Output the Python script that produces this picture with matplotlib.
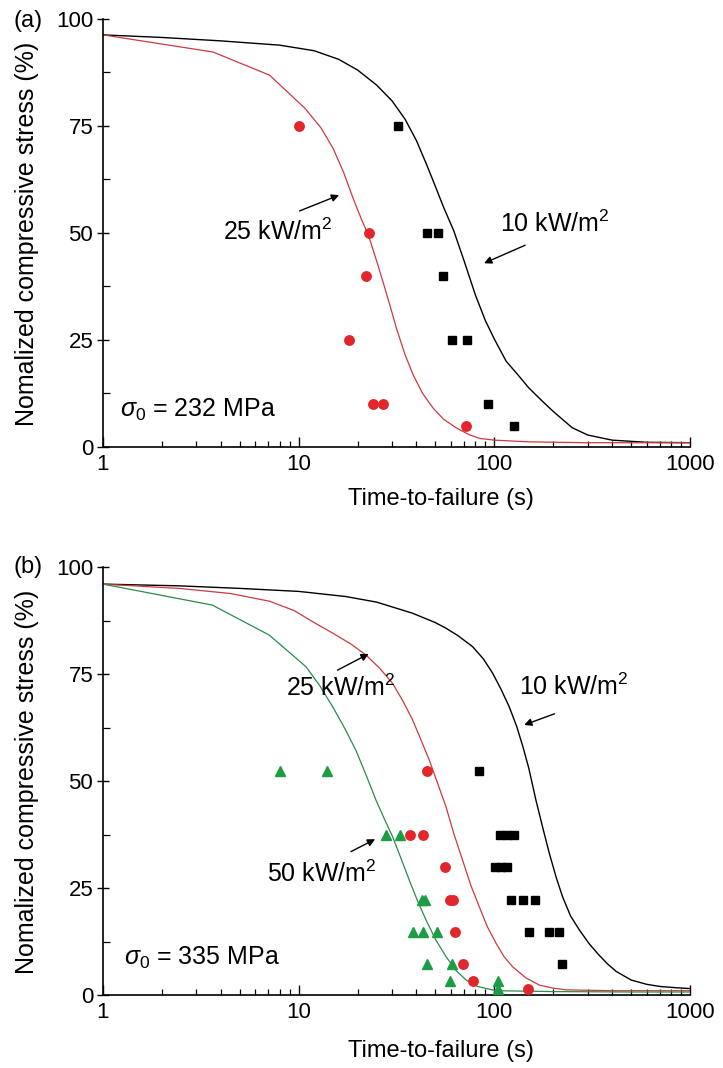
import matplotlib
matplotlib.use("Agg")
import matplotlib.pyplot as plt
from matplotlib.ticker import FixedLocator, NullFormatter

plt.rcParams['font.family'] = ['Liberation Sans', 'DejaVu Sans']
plt.rcParams['mathtext.fontset'] = 'custom'
plt.rcParams['mathtext.rm'] = 'Liberation Sans'
plt.rcParams['mathtext.it'] = 'Liberation Sans:italic'
plt.rcParams['mathtext.bf'] = 'Liberation Sans:bold'

# ---------------- data: panel (a), sigma0 = 232 MPa ----------------
a_curve10_t = [1, 2, 4, 8, 12, 16, 20, 25, 30, 35, 40, 45, 50, 55, 62, 70, 80, 90, 100, 115, 130, 150,
               175, 200, 250, 300, 400, 600, 1000]
a_curve10_y = [96.2, 95.6, 94.8, 93.8, 92.5, 90.5, 88.0, 84.5, 80.8, 76.5, 71.5, 66.0, 60.8, 56.0, 50.5,
               43.5, 35.5, 29.5, 25.2, 20.0, 17.2, 13.8, 10.8, 8.3, 4.5, 2.8, 1.6, 1.1, 1.0]
a_curve25_t = [1, 3.65, 7.1, 10.8, 13, 15, 17, 19, 21, 22.7, 25, 27, 29.5, 31.7, 35, 38.5, 43, 48.8, 55,
               64.2, 75, 84.5, 100, 150, 300, 1000]
a_curve25_y = [96.2, 92.2, 86.8, 79.0, 74.5, 69.7, 64.0, 58.0, 53.0, 49.5, 43.5, 38.5, 32.5, 27.5, 21.5,
               16.8, 12.5, 9.0, 6.5, 4.4, 2.8, 2.0, 1.6, 1.2, 1.0, 1.0]
a_red_t = [10.0, 23.0, 22.1, 18.1, 24.1, 27.0, 71.4]
a_red_y = [75, 50, 40, 25, 10, 10, 5]
a_black_t = [32.0, 45.1, 51.3, 54.4, 60.5, 72.8, 93.2, 126.5]
a_black_y = [75, 50, 50, 40, 25, 25, 10, 5]

# ---------------- data: panel (b), sigma0 = 335 MPa ----------------
b_curve10_t = [1, 2.45, 5, 10, 17.4, 25, 38.2, 50, 56.6, 65, 77.4, 88, 98, 108, 119, 130, 140, 150, 163,
               177, 191, 207, 223, 245, 272, 305, 340, 380, 420, 500, 600, 700, 850, 1000]
b_curve10_y = [96.0, 95.6, 95.0, 94.3, 93.1, 91.8, 89.2, 87.0, 85.7, 84.0, 81.4, 78.5, 75.2, 71.5, 67.4,
               62.8, 58.0, 53.0, 45.6, 39.0, 33.1, 27.5, 23.0, 18.5, 15.2, 12.0, 9.5, 7.2, 5.5, 3.5,
               2.5, 2.0, 1.7, 1.5]
b_curve25_t = [1, 2.45, 4.5, 7.1, 9.5, 11.8, 15, 18.5, 22.1, 26, 30.2, 34, 38.2, 42, 46.5, 51, 56.6, 62,
               68.8, 76, 83.8, 92, 102, 112, 124, 145, 170, 200, 233, 400, 1000]
b_curve25_y = [96.0, 95.0, 93.8, 92.0, 89.8, 87.2, 84.5, 82.0, 79.4, 76.3, 72.8, 68.8, 64.3, 59.8, 54.9,
               49.8, 44.0, 37.8, 31.5, 25.5, 20.6, 16.0, 12.1, 9.0, 6.6, 4.0, 2.3, 1.6, 1.2, 1.0, 1.0]
b_curve50_t = [1, 3.62, 7.07, 10.9, 12.8, 14.9, 17.2, 19.6, 22.2, 24.8, 27.5, 30.2, 33.3, 36.7, 40.5,
               44.8, 50, 56.6, 63.5, 71.7, 82, 102, 200, 500, 1000]
b_curve50_y = [96.0, 91.1, 84.1, 76.7, 72.3, 67.4, 62.3, 57.2, 51.2, 45.6, 41.0, 37.0, 32.0, 26.9, 22.0,
               17.5, 13.0, 9.0, 5.8, 3.5, 2.0, 1.0, 0.8, 0.7, 0.7]
b_green_t = [8.0, 14.0, 28.1, 32.9, 42.7, 44.4, 38.2, 43.0, 50.7, 45.1, 60.8, 59.3, 104, 104]
b_green_y = [52.3, 52.3, 37.3, 37.3, 22.3, 22.3, 14.8, 14.8, 14.8, 7.3, 7.3, 3.3, 3.3, 1.5]
b_red_t = [45.1, 37.0, 43.3, 56.0, 59.5, 61.5, 62.9, 68.8, 78.1, 149]
b_red_y = [52.3, 37.3, 37.3, 29.8, 22.3, 22.3, 14.8, 7.3, 3.3, 1.5]
b_black_t = [83.8, 106.4, 115.6, 126, 101, 108, 115.6, 121.7, 139.6, 162, 150, 189.6, 213, 222]
b_black_y = [52.3, 37.3, 37.3, 37.3, 29.8, 29.8, 29.8, 22.3, 22.3, 22.3, 14.8, 14.8, 14.8, 7.3]

x_ticks = [1, 10, 100, 1000]
x_ticklabels = ['1', '10', '100', '1000']
y_ticks = [0, 25, 50, 75, 100]
y_minor = [12.5, 37.5, 62.5, 87.5]

RED = '#e2262b'
RED_LINE = '#cc3a3e'
GREEN = '#1c9c45'
GREEN_LINE = '#2a8c48'

W, H = 723, 1068
fig = plt.figure(figsize=(W / 100, H / 100), dpi=100)

def make_axes(top_px, bottom_px):
    left_px, right_px = 103, 690
    return fig.add_axes([left_px / W, 1 - bottom_px / H, (right_px - left_px) / W, (bottom_px - top_px) / H])

def style(ax, xlabel_off):
    ax.set_xscale('log')
    ax.set_xlim(1, 1000)
    ax.set_ylim(0, 100)
    for s in ['top', 'right']:
        ax.spines[s].set_visible(False)
    for s in ['left', 'bottom']:
        ax.spines[s].set_linewidth(1.2)
    ax.set_xticks(x_ticks)
    ax.set_xticklabels(x_ticklabels)
    ax.xaxis.set_minor_formatter(NullFormatter())
    ax.set_yticks(y_ticks)
    ax.yaxis.set_minor_locator(FixedLocator(y_minor))
    ax.tick_params(axis='x', which='major', direction='in', length=7, width=1.0, labelsize=16, pad=5)
    ax.tick_params(axis='x', which='minor', direction='in', length=4, width=0.9)
    ax.tick_params(axis='y', which='major', direction='inout', length=8, width=1.0, labelsize=16, pad=3)
    ax.tick_params(axis='y', which='minor', direction='in', length=5, width=0.9)
    ax.set_xlabel('Time-to-failure (s)', fontsize=17)
    ax.xaxis.label.set_va('center')
    ax.xaxis.set_label_coords(0.576, -xlabel_off / 428)
    ax.set_ylabel('Nomalized compressive stress (%)', fontsize=18)
    ax.yaxis.label.set_va('center')
    ax.yaxis.set_label_coords(-0.129, 0.498)

def arrow(ax, tail, head):
    ax.annotate('', xy=head, xytext=tail,
                arrowprops=dict(arrowstyle='-|>', color='black', lw=1.0,
                                mutation_scale=11, shrinkA=0, shrinkB=0))

# ---------------- panel (a) ----------------
ax1 = make_axes(18.6, 447)
style(ax1, 52)
ax1.plot(a_curve10_t, a_curve10_y, color='black', lw=1.0, zorder=2)
ax1.plot(a_curve25_t, a_curve25_y, color=RED_LINE, lw=0.9, zorder=2)
ax1.plot(a_red_t, a_red_y, 'o', color=RED, ms=6.8, mec=RED, zorder=3, clip_on=False)
ax1.plot(a_black_t, a_black_y, 's', color='black', ms=6.0, zorder=3, clip_on=False)
ax1.text(4.11, 50.2, r'25 kW/m$^2$', fontsize=18, ha='left', va='center')
arrow(ax1, (10.1, 55.1), (16.1, 58.8))
ax1.text(107, 52.2, r'10 kW/m$^2$', fontsize=18, ha='left', va='center')
arrow(ax1, (143.7, 47.1), (88.6, 42.9))
ax1.text(1.22, 8.6, r'$\sigma_0$ = 232 MPa', fontsize=18, ha='left', va='center')
fig.text(28 / W, 1 - 21 / H, '(a)', fontsize=17, ha='center', va='center')

# ---------------- panel (b) ----------------
ax2 = make_axes(567, 995)
style(ax2, 56)
ax2.plot(b_curve10_t, b_curve10_y, color='black', lw=1.0, zorder=2)
ax2.plot(b_curve25_t, b_curve25_y, color=RED_LINE, lw=0.9, zorder=2)
ax2.plot(b_curve50_t, b_curve50_y, color=GREEN_LINE, lw=0.9, zorder=2)
ax2.plot(b_green_t, b_green_y, '^', color=GREEN, ms=7.5, zorder=3, clip_on=False)
ax2.plot(b_red_t, b_red_y, 'o', color=RED, ms=6.8, zorder=4, clip_on=False)
ax2.plot(b_black_t, b_black_y, 's', color='black', ms=6.0, zorder=4, clip_on=False)
ax2.text(8.6, 71.7, r'25 kW/m$^2$', fontsize=18, ha='left', va='center')
arrow(ax2, (15.8, 75.9), (22.8, 79.7))
ax2.text(134, 72.0, r'10 kW/m$^2$', fontsize=18, ha='left', va='center')
arrow(ax2, (203, 65.7), (142, 63.1))
ax2.text(6.9, 28.4, r'50 kW/m$^2$', fontsize=18, ha='left', va='center')
arrow(ax2, (18.5, 33.5), (24.6, 36.4))
ax2.text(1.28, 8.7, r'$\sigma_0$ = 335 MPa', fontsize=18, ha='left', va='center')
fig.text(28 / W, 1 - 567 / H, '(b)', fontsize=17, ha='center', va='center')

fig.savefig('out.png', dpi=100)
